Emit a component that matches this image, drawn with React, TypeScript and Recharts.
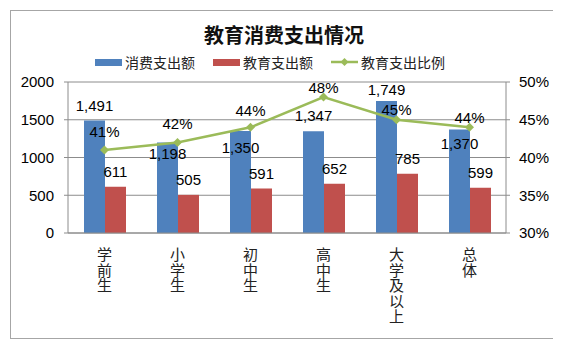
import React from 'react';
import { ComposedChart, Bar, Line, XAxis, YAxis, CartesianGrid, Legend, LabelList } from 'recharts';

const categories = ['学前生', '小学生', '初中生', '高中生', '大学及以上', '总体'];
const spending = [1491, 1198, 1350, 1347, 1749, 1370];
const eduSpending = [611, 505, 591, 652, 785, 599];
const eduRatio = [41, 42, 44, 48, 45, 44];
const leftTicks = [0, 500, 1000, 1500, 2000];
const rightTicks = [30, 35, 40, 45, 50];

// label placement tweaks (the original had some labels moved by hand)
const spendLabelDy = [-15, 11, 16, -16, -11, 14];
const ratioLabelDy = [-18, -19, -17, -10, -10, -10];

const FONT = '"Liberation Sans", Arial, "Noto Sans CJK SC", sans-serif';
const CJK = '"Noto Sans CJK SC", sans-serif';
const BLUE = '#4F81BD';
const RED = '#C0504D';
const GREEN = '#9BBB59';
const GRID = '#8c8c8c';

const data = categories.map((name, i) => ({
  name,
  spending: spending[i],
  edu: eduSpending[i],
  ratio: eduRatio[i],
}));

const SpendLabel = (props: any) => {
  const { x, y, width, value, index } = props;
  return (
    <text x={x + width / 2} y={y + spendLabelDy[index]} textAnchor="middle" dominantBaseline="central"
      fontSize={15} fontFamily={FONT} fill="#000">
      {Number(value).toLocaleString('en-US')}
    </text>
  );
};

const EduLabel = (props: any) => {
  const { x, y, width, value } = props;
  return (
    <text x={x + width / 2} y={y - 15} textAnchor="middle" dominantBaseline="central"
      fontSize={15} fontFamily={FONT} fill="#000">
      {value}
    </text>
  );
};

const RatioLabel = (props: any) => {
  const { x, y, value, index } = props;
  return (
    <text x={x} y={y + ratioLabelDy[index]} textAnchor="middle" dominantBaseline="central"
      fontSize={15} fontFamily={FONT} fill="#000">
      {value}%
    </text>
  );
};

const Diamond = (props: any) => {
  const { cx, cy } = props;
  if (cx == null || cy == null) return null;
  const r = 4.5;
  return <polygon points={`${cx},${cy - r} ${cx + r},${cy} ${cx},${cy + r} ${cx - r},${cy}`} fill={GREEN} />;
};

// category names are written top-to-bottom, one character per line
const VerticalTick = (props: any) => {
  const { x, y, payload } = props;
  return (
    <text x={x} y={y + 6} style={{ writingMode: 'vertical-rl', letterSpacing: 0.5 }}
      fontSize={15} fontFamily={CJK} fill="#222">
      {payload.value}
    </text>
  );
};

const LegendContent = () => {
  const item = (swatch: React.ReactNode, label: string) => (
    <div style={{ display: 'flex', alignItems: 'center', marginRight: 18 }}>
      {swatch}
      <span style={{ marginLeft: 3, fontSize: 14, fontFamily: CJK, color: '#222', lineHeight: '20px' }}>{label}</span>
    </div>
  );
  return (
    <div style={{ display: 'flex', justifyContent: 'center', paddingRight: 10 }}>
      {item(<div style={{ width: 27, height: 7, background: BLUE }} />, '消费支出额')}
      {item(<div style={{ width: 27, height: 7, background: RED }} />, '教育支出额')}
      {item(
        <svg width={27} height={10}>
          <line x1={0} y1={5} x2={27} y2={5} stroke={GREEN} strokeWidth={2.5} />
          <polygon points="13.5,1 17.5,5 13.5,9 9.5,5" fill={GREEN} />
        </svg>,
        '教育支出比例'
      )}
    </div>
  );
};

export default function App() {
  return (
    <div style={{ position: 'relative', width: 546, height: 327, marginLeft: 2, marginTop: 2, border: '1px solid #a6a6a6', background: '#fff' }}>
      <div style={{ position: 'absolute', top: 12, left: 0, width: 546, textAlign: 'center', fontSize: 20, fontWeight: 'bold', fontFamily: CJK, lineHeight: '24px', color: '#111' }}>
        教育消费支出情况
      </div>
      <ComposedChart width={546} height={327} data={data} margin={{ top: 51, right: 0, left: 0, bottom: 0 }}
        barGap={0} barCategoryGap="21%">
        <CartesianGrid vertical={false} stroke={GRID} yAxisId="left" />
        <Legend verticalAlign="top" height={20} wrapperStyle={{ top: 41, left: 0, width: 546 }} content={<LegendContent />} />
        <XAxis dataKey="name" interval={0} height={105} tickLine={false} axisLine={{ stroke: GRID }} tick={<VerticalTick />} />
        <YAxis yAxisId="left" domain={[0, 2000]} ticks={leftTicks} width={57} axisLine={{ stroke: GRID }}
          tickLine={{ stroke: GRID }} tickSize={4} tickMargin={10}
          tick={{ fontSize: 15, fill: '#000', fontFamily: FONT }} />
        <YAxis yAxisId="right" orientation="right" domain={[30, 50]} ticks={rightTicks} width={51}
          tickFormatter={(v) => `${v}%`} axisLine={{ stroke: GRID }} tickLine={{ stroke: GRID }} tickSize={4} tickMargin={9}
          tick={{ fontSize: 15, fill: '#000', fontFamily: FONT }} />
        <Bar yAxisId="left" dataKey="spending" fill={BLUE} barSize={21} isAnimationActive={false}>
          <LabelList dataKey="spending" content={<SpendLabel />} />
        </Bar>
        <Bar yAxisId="left" dataKey="edu" fill={RED} barSize={21} isAnimationActive={false}>
          <LabelList dataKey="edu" content={<EduLabel />} />
        </Bar>
        <Line yAxisId="right" dataKey="ratio" stroke={GREEN} strokeWidth={2.5} dot={<Diamond />} activeDot={false}
          isAnimationActive={false}>
          <LabelList dataKey="ratio" content={<RatioLabel />} />
        </Line>
      </ComposedChart>
    </div>
  );
}
